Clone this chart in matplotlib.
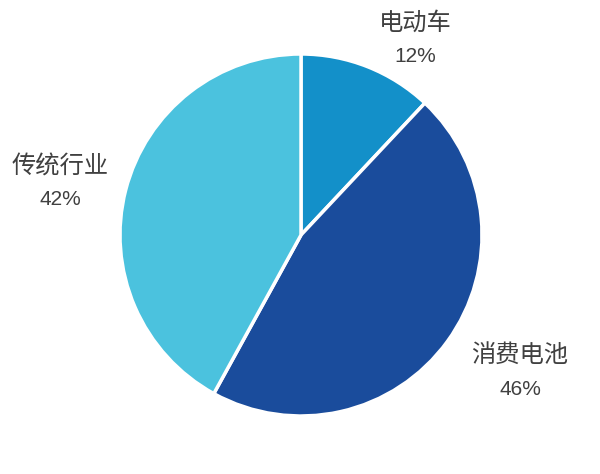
import matplotlib
matplotlib.use("Agg")
import matplotlib.pyplot as plt
from matplotlib import font_manager

plt.rcParams['font.family'] = ['Noto Sans CJK SC', 'DejaVu Sans']

categories = ['电动车', '消费电池', '传统行业']
shares = [12, 46, 42]
colors = ['#1390C9', '#1A4C9C', '#4BC2DE']

installed = {f.name for f in font_manager.fontManager.ttflist}
pct_family = ['Liberation Sans Narrow'] if 'Liberation Sans Narrow' in installed else ['Liberation Sans']

fig = plt.figure(figsize=(6.0, 4.74), dpi=100)
fig.patch.set_facecolor('white')

# square axes around the pie (pixel layout: center 301,235, radius 181)
cx, cy, r = 301, 235, 181
W, H = 600, 474
ax = fig.add_axes([(cx - r) / W, (H - cy - r) / H, 2 * r / W, 2 * r / H])

ax.pie(shares, colors=colors, startangle=90, counterclock=False,
       radius=1.0, wedgeprops=dict(edgecolor='white', linewidth=2.5))
ax.set_xlim(-1, 1)
ax.set_ylim(-1, 1)
ax.set_aspect('equal')
ax.axis('off')

label_pos = [(0.632, 1.175, 0.985), (1.21, -0.66, -0.855), (-1.331, 0.378, 0.195)]
for name, val, (x, y1, y2) in zip(categories, shares, label_pos):
    ax.text(x, y1, name, ha='center', va='center', fontsize=17.5,
            color='#404040', clip_on=False)
    ax.text(x, y2, f'{val}%', ha='center', va='center', fontsize=15,
            family=pct_family, color='#404040', clip_on=False)

fig.savefig('out.png', dpi=100, facecolor='white')
